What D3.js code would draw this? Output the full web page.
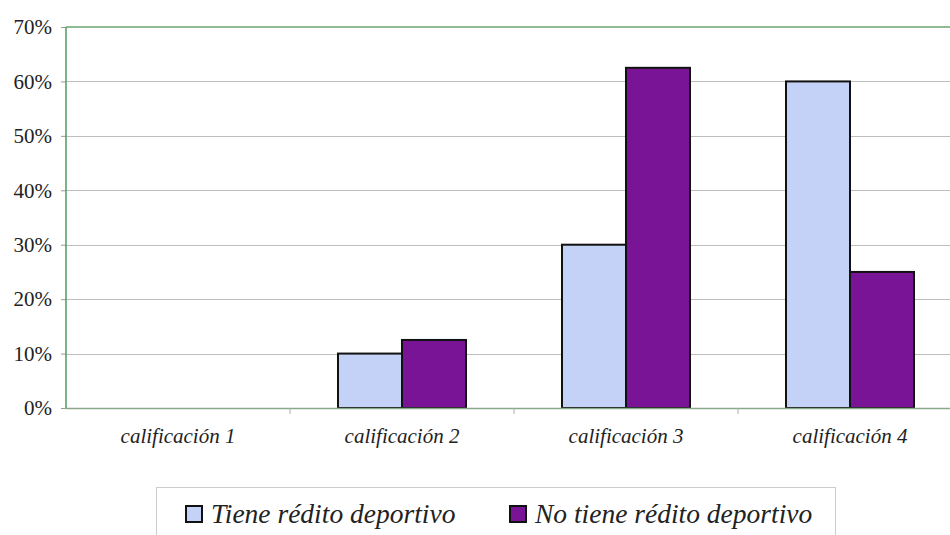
<!DOCTYPE html>
<html><head><meta charset="utf-8">
<script src="https://cdn.jsdelivr.net/npm/d3@7"></script>
<style>body{margin:0;background:#fff;}svg{display:block;}</style>
</head><body>
<script>
const categories = ["calificación 1","calificación 2","calificación 3","calificación 4"];
const seriesNames = ["Tiene rédito deportivo","No tiene rédito deportivo"];
const tiene = [0, 0.10, 0.30, 0.60];
const noTiene = [0, 0.125, 0.625, 0.25];
const yTicks = [0,0.1,0.2,0.3,0.4,0.5,0.6,0.7];
const colors = ["#c3d2f6","#7a1496"];

(function(){
const W=950,H=535;
const FONT='"Liberation Serif"';
const svg=d3.select("body").append("svg").attr("width",W).attr("height",H);
const mL=66, mT=27, mB=408, mR=962;
const x=d3.scaleBand().domain(categories).range([mL,mR]);
const inner=d3.scaleBand().domain(seriesNames).range([0,x.bandwidth()]).paddingOuter(0.75);
const y=d3.scaleLinear().domain([0,0.7]).range([mB,mT]);

// gridlines
svg.append("g").selectAll("line").data(yTicks.slice(1,-1)).join("line")
  .attr("x1",mL).attr("x2",W).attr("y1",d=>Math.round(y(d))+0.5).attr("y2",d=>Math.round(y(d))+0.5)
  .attr("stroke","#bdbdbd").attr("stroke-width",1);

// y axis
const ya=svg.append("g").attr("transform",`translate(${mL},0)`)
  .call(d3.axisLeft(y).tickValues(yTicks).tickFormat(d3.format(".0%")).tickSize(5).tickPadding(9));
ya.attr("font-family",null).attr("font-size",null);
ya.select(".domain").remove();
ya.selectAll("line").attr("stroke","#999");
ya.selectAll("text").style("font-family",FONT).style("font-size","21px").attr("fill","#222");

// bars
const rows=[];
categories.forEach((c,i)=>{ [tiene[i],noTiene[i]].forEach((v,j)=>{ if(v>0) rows.push({c,s:seriesNames[j],v,j}); }); });
svg.append("g").selectAll("rect").data(rows).join("rect")
  .attr("x",d=>x(d.c)+inner(d.s)).attr("width",inner.bandwidth())
  .attr("y",d=>y(d.v)).attr("height",d=>y(0)-y(d.v))
  .attr("fill",d=>colors[d.j]).attr("stroke","#111").attr("stroke-width",2);

// x axis
const xa=svg.append("g").attr("transform",`translate(0,${mB})`)
  .call(d3.axisBottom(x).tickSize(0).tickPadding(20));
xa.attr("font-family",null).attr("font-size",null);
xa.select(".domain").remove();
xa.selectAll("text").style("font-family",FONT).style("font-style","italic").style("font-size","21px").attr("fill","#222");
svg.append("line").attr("x1",mL).attr("x2",W).attr("y1",mB+0.5).attr("y2",mB+0.5).attr("stroke","#8aa88a").attr("stroke-width",1.5);
svg.append("g").selectAll("line").data(categories.slice(1)).join("line")
  .attr("x1",d=>x(d)).attr("x2",d=>x(d)).attr("y1",mB).attr("y2",mB+6).attr("stroke","#aaa");

// frame (left & top in green)
svg.append("line").attr("x1",mL).attr("x2",mL).attr("y1",mT).attr("y2",mB).attr("stroke","#4f9a5a").attr("stroke-width",1.5);
svg.append("line").attr("x1",mL).attr("x2",W).attr("y1",mT).attr("y2",mT).attr("stroke","#6aa56f").attr("stroke-width",1.5);

// legend
const lg=svg.append("g");
lg.append("rect").attr("x",156.5).attr("y",487.5).attr("width",679).attr("height",60).attr("fill","#fff").attr("stroke","#ccc");
const legX=[186,510];
seriesNames.forEach((s,j)=>{
  lg.append("rect").attr("x",legX[j]).attr("y",506).attr("width",16).attr("height",16)
    .attr("fill",colors[j]).attr("stroke","#111").attr("stroke-width",2);
  lg.append("text").attr("x",legX[j]+25).attr("y",523).text(s)
    .style("font-family",FONT).style("font-style","italic").style("font-size","27.5px").attr("fill","#222");
});
})();
</script>
</body></html>
